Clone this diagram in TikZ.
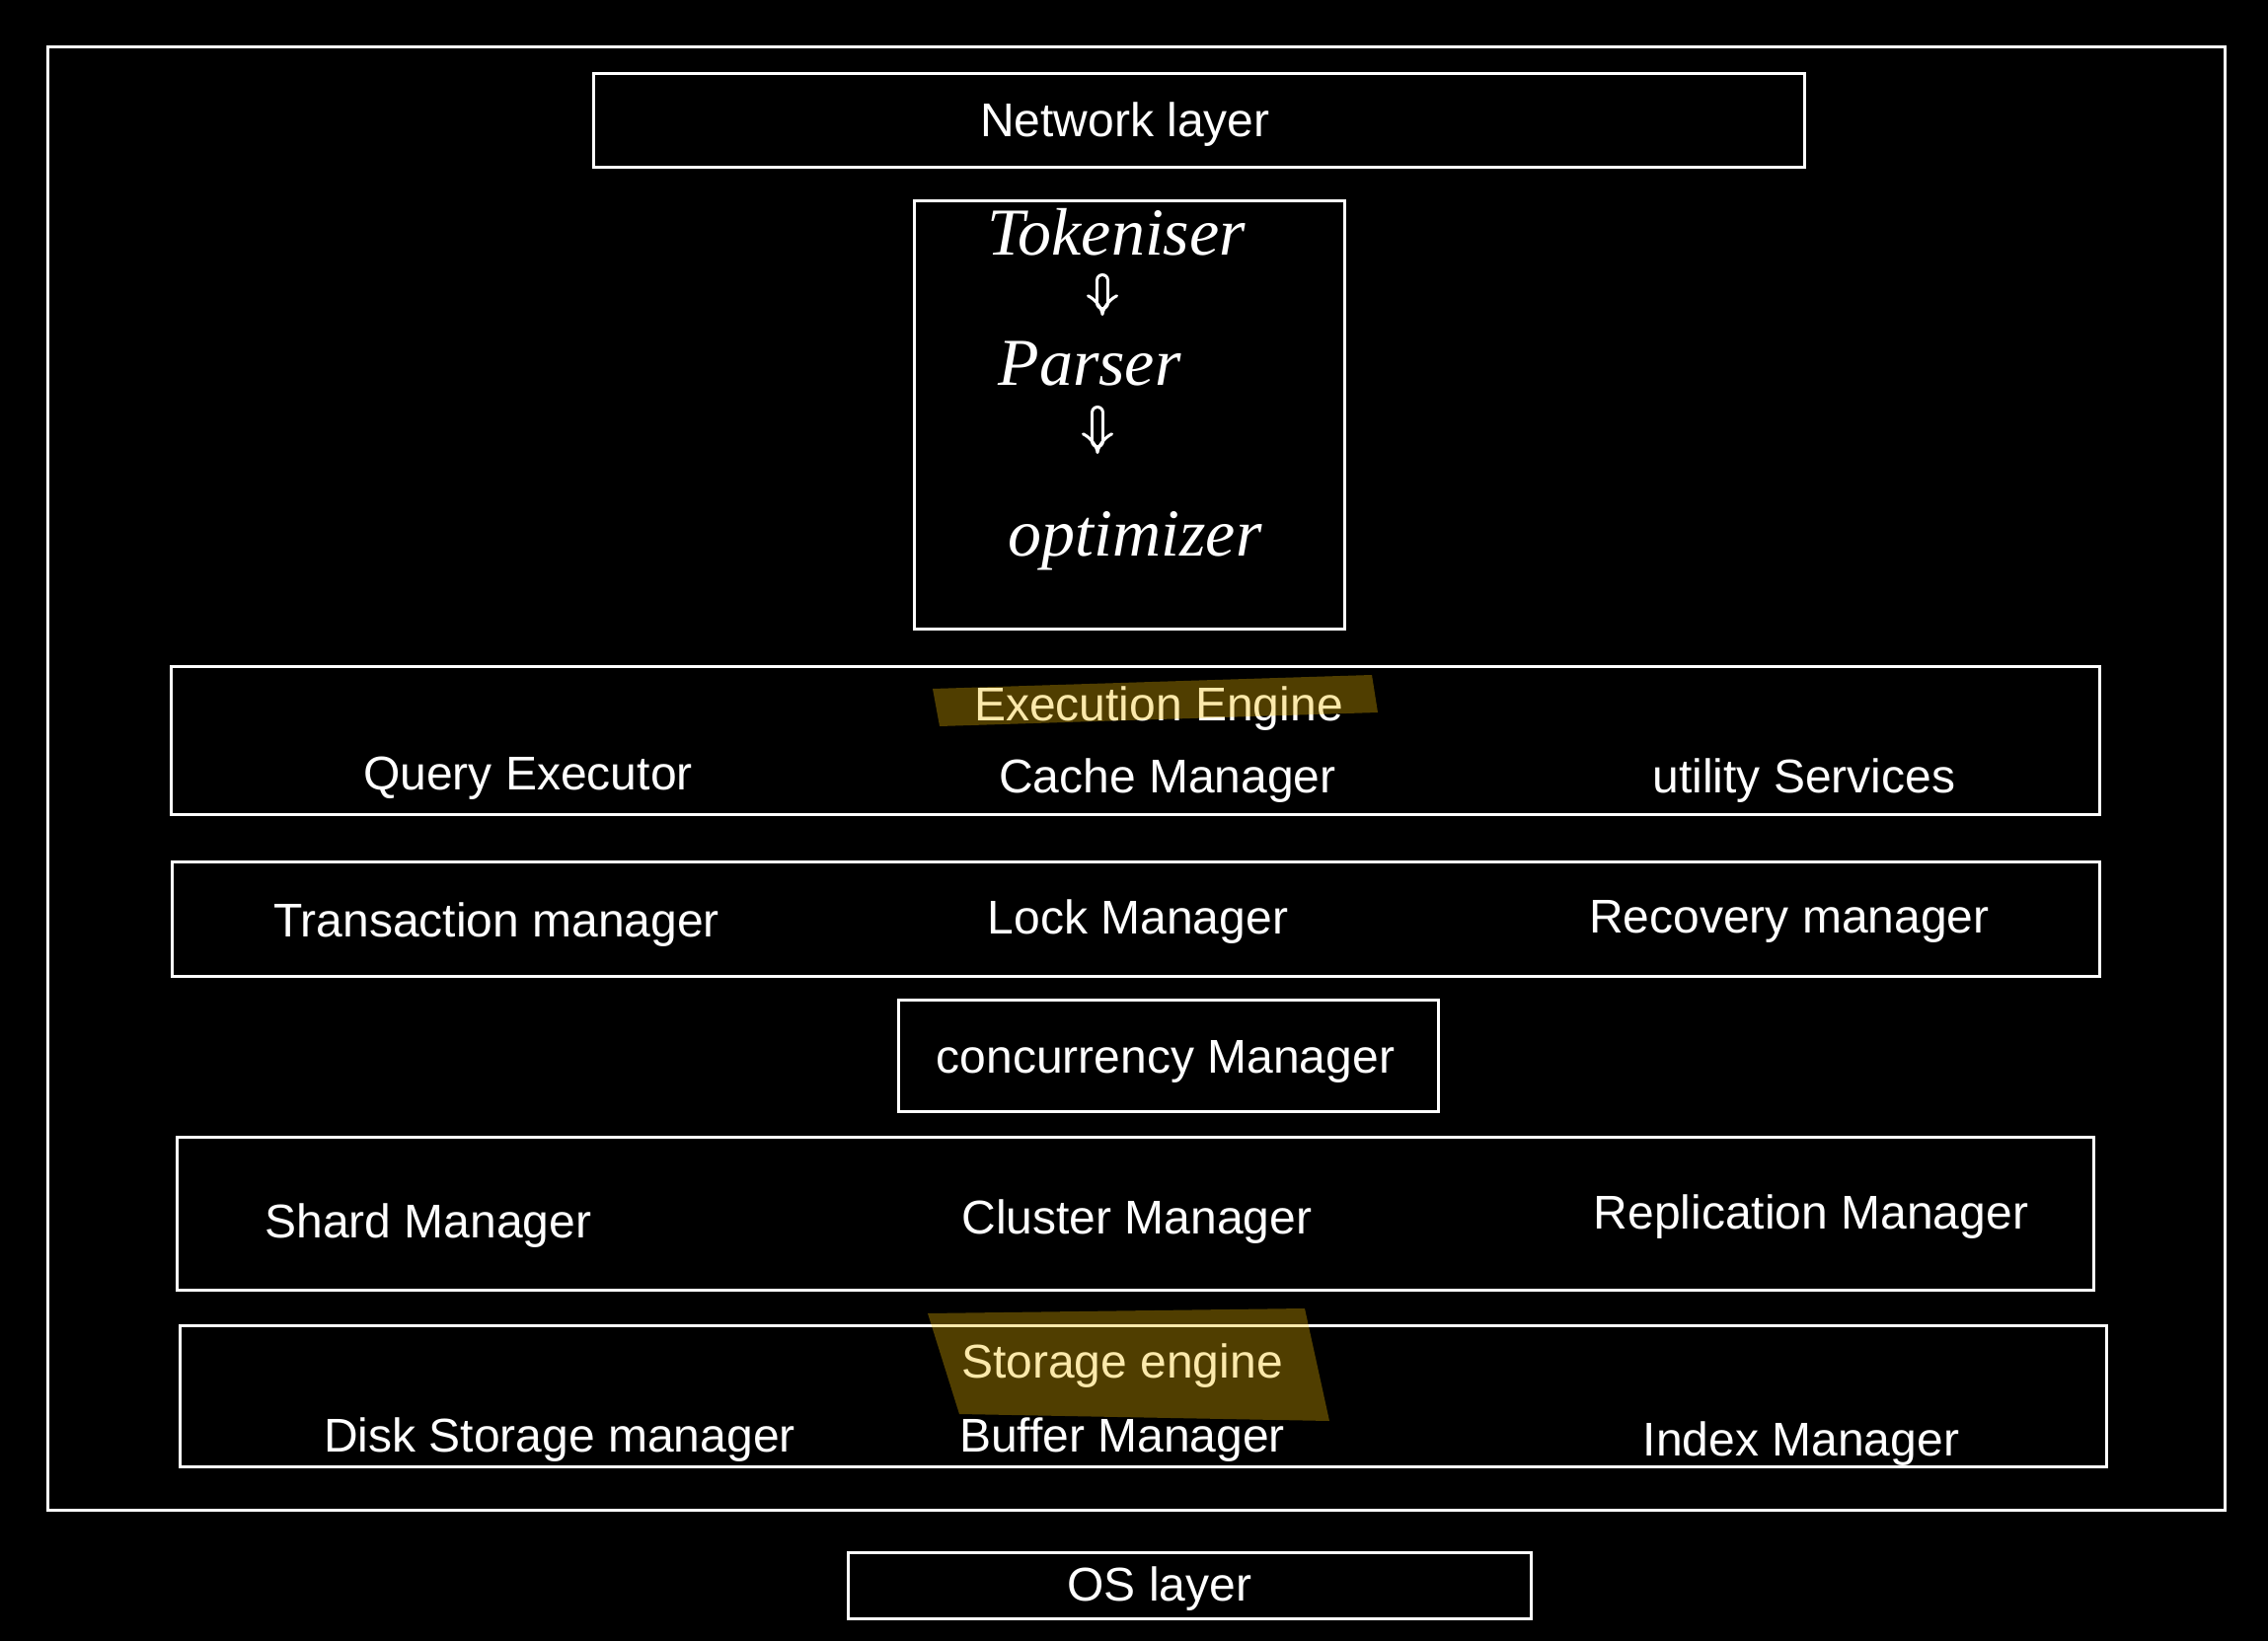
\documentclass[tikz,border=0pt]{standalone}
\usepackage{fontspec}
\setmainfont{Liberation Sans}
\newfontfamily\handfont{Liberation Serif}
\usetikzlibrary{fit,arrows.meta}
\definecolor{hlyellow}{RGB}{245,190,0}
\begin{document}
\begin{tikzpicture}[x=0.5pt,y=-0.5pt,
  box/.style={draw=white, line width=1.5pt, inner sep=0pt},
  lbl/.style={text=white, font=\fontsize{24}{28}\selectfont, inner sep=0pt, text height=17pt, text depth=0pt},
  hand/.style={text=white, font=\handfont\itshape\fontsize{34}{38}\selectfont, inner sep=0pt, text height=22pt, text depth=0pt},
  harrow/.style={draw=white, line width=1.5pt, double=black, double distance=4pt, line cap=round, -{Implies[length=7pt, width=18pt, round]}},
  hl/.style={fill=hlyellow, fill opacity=0.33, draw=none}]
% background / page size
\fill[black] (0,0) rectangle (2298,1663);

% boxes
\node[box, fit={(48,48) (2254,1530)}] (outer) {};
\node[box, fit={(601,75) (1828,170)}] (netbox) {};
\node[box, fit={(926,204) (1362,638)}] (parsebox) {};
\node[box, fit={(173,676) (2127,825)}] (execbox) {};
\node[box, fit={(174,873) (2127,989)}] (txbox) {};
\node[box, fit={(910,1013) (1457,1126)}] (concbox) {};
\node[box, fit={(179,1152) (2121,1307)}] (shardbox) {};
\node[box, fit={(182,1343) (2134,1486)}] (storbox) {};
\node[box, fit={(859,1573) (1551,1640)}] (osbox) {};

% labels
\node[lbl] (net) at (1140,122) {Network layer};
\node[lbl] (exec) at (1174,714) {Execution Engine};
\node[lbl] (qe) at (535,783) {Query Executor};
\node[lbl] (cache) at (1183,787) {Cache Manager};
\node[lbl] (util) at (1828,787) {utility Services};
\node[lbl] (tx) at (503,932) {Transaction manager};
\node[lbl] (lock) at (1153,929) {Lock Manager};
\node[lbl] (rec) at (1813,928) {Recovery manager};
\node[lbl] (conc) at (1181,1070) {concurrency Manager};
\node[lbl] (shard) at (434,1237) {Shard Manager};
\node[lbl] (clus) at (1152,1233) {Cluster Manager};
\node[lbl] (repl) at (1835,1228) {Replication Manager};
\node[lbl] (stor) at (1137,1379) {Storage engine};
\node[lbl] (disk) at (567,1454) {Disk Storage manager};
\node[lbl] (buf) at (1137,1454) {Buffer Manager};
\node[lbl] (idx) at (1825,1458) {Index Manager};
\node[lbl] (os) at (1175,1605) {OS layer};

% handwritten pipeline
\node[hand] (tok) at (1131,237) {Tokeniser};
\node[hand] (par) at (1104,369) {Parser};
\node[hand] (opt) at (1150,542) {optimizer};
\coordinate (a1s) at (1117,284);
\coordinate (a1e) at (1117,320);
\coordinate (a2s) at (1112,418);
\coordinate (a2e) at (1112,460);
\draw[harrow] (a1s) -- (a1e);
\draw[harrow] (a2s) -- (a2e);

% highlighter strokes
\fill[hl] (945,698) -- (1390,684) -- (1396,722) -- (952,736) -- cycle;
\fill[hl] (940,1331) -- (1322,1326) -- (1347,1440) -- (972,1433) -- cycle;
\end{tikzpicture}
\end{document}
